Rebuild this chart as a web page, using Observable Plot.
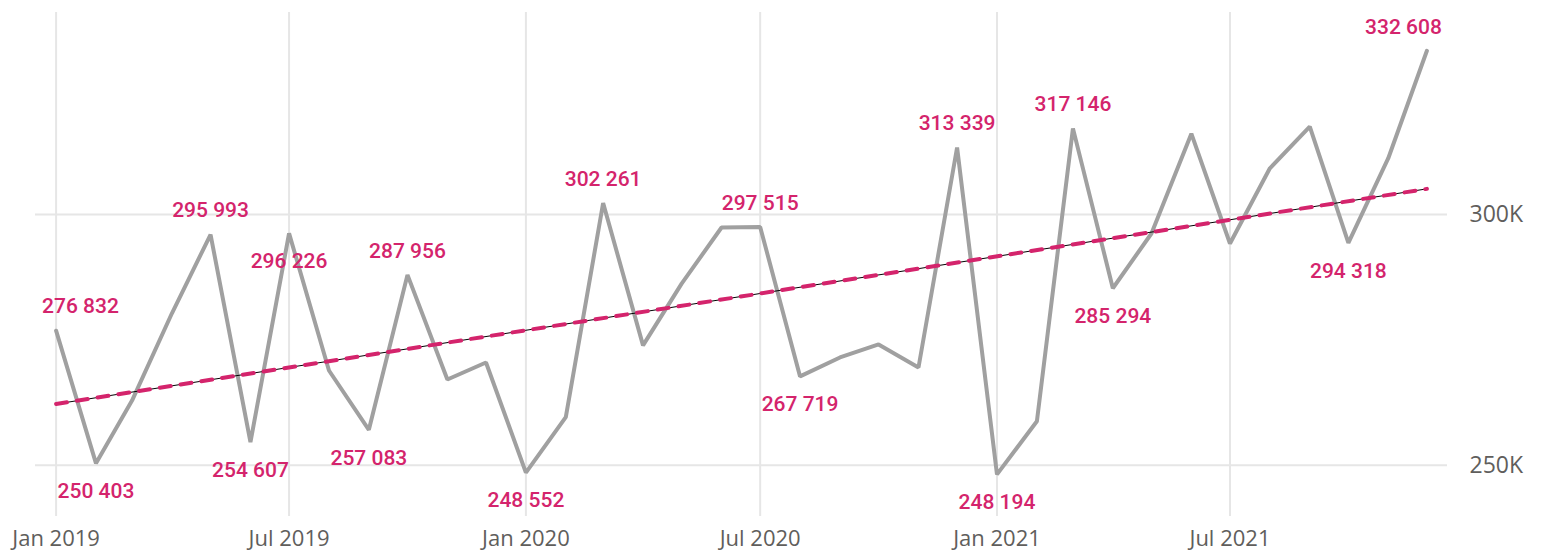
<!DOCTYPE html>
<html>
<head>
<meta charset="utf-8">
<script src="https://cdn.jsdelivr.net/npm/d3@7"></script>
<script src="https://cdn.jsdelivr.net/npm/@observablehq/plot@0.6"></script>
<style>
  html, body { margin: 0; padding: 0; background: #fff; }
  #chart svg { display: block; }
</style>
</head>
<body>
<div id="chart"></div>
<script>
const months = [
  "2019-01","2019-02","2019-03","2019-04","2019-05","2019-06","2019-07","2019-08","2019-09","2019-10","2019-11","2019-12",
  "2020-01","2020-02","2020-03","2020-04","2020-05","2020-06","2020-07","2020-08","2020-09","2020-10","2020-11","2020-12",
  "2021-01","2021-02","2021-03","2021-04","2021-05","2021-06","2021-07","2021-08","2021-09","2021-10","2021-11","2021-12"
];
const values = [
  276832, 250403, 262900, 280300, 295993, 254607, 296226, 268900, 257083, 287956, 267100, 270500,
  248552, 259600, 302261, 273900, 286200, 297400, 297515, 267719, 271500, 274100, 269500, 313339,
  248194, 258800, 317146, 285294, 296200, 316100, 294200, 309200, 317500, 294318, 311200, 332608
];
const aboveMonths = ["2019-01","2019-05","2019-10","2020-03","2020-07","2020-12","2021-03","2021-12"];
const belowMonths = ["2019-02","2019-06","2019-07","2019-09","2020-01","2020-08","2021-01","2021-04","2021-10"];
const yTicks = [250000, 300000];
const xTickMonths = ["2019-01","2019-07","2020-01","2020-07","2021-01","2021-07"];

const parse = d3.utcParse("%Y-%m");
const data = months.map((m, i) => ({month: m, date: parse(m), value: values[i]}));
const fmt = v => d3.format(",")(v).replace(/,/g, " ");

// least squares trend
const n = data.length;
const xs = data.map(d => +d.date), ys = data.map(d => d.value);
const mx = d3.mean(xs), my = d3.mean(ys);
const slope = d3.sum(xs.map((x, i) => (x - mx) * (ys[i] - my))) / d3.sum(xs.map(x => (x - mx) ** 2));
const trend = [data[0], data[n - 1]].map(d => ({date: d.date, value: my + slope * (+d.date - mx)}));

const above = data.filter(d => aboveMonths.includes(d.month));
const below = data.filter(d => belowMonths.includes(d.month));
const first = above.filter(d => d.month === months[0]);
const last = above.filter(d => d.month === months[n - 1]);
const aboveMid = above.filter(d => d !== first[0] && d !== last[0]);

const pink = "#d4246c";
const labelFont = {fill: pink, fontSize: 21, fontWeight: 500, fontFamily: "Roboto"};
const axisFont = {fontSize: 22, fontWeight: 400, fontFamily: "Open Sans", fill: "#605e5c"};

const chart = Plot.plot({
  width: 1541,
  height: 551,
  marginTop: 12,
  marginBottom: 41,
  marginLeft: 35,
  marginRight: 94,
  style: {fontFamily: "Roboto", background: "#fff"},
  x: {type: "utc", domain: [new Date(Date.UTC(2018, 11, 16)), new Date(Date.UTC(2021, 11, 17))]},
  y: {domain: [241000, 340240]},
  marks: [
    Plot.gridX(xTickMonths.map(parse), {stroke: "#e6e6e6", strokeOpacity: 1, strokeWidth: 2, insetBottom: -6}),
    Plot.gridY(yTicks, {stroke: "#e6e6e6", strokeOpacity: 1, strokeWidth: 2}),
    Plot.axisX(xTickMonths.map(parse), {
      tickSize: 0, tickPadding: 20, tickFormat: d3.utcFormat("%b %Y"), label: null, ...axisFont
    }),
    Plot.axisY(yTicks, {
      anchor: "right", tickSize: 0, tickPadding: 22, tickFormat: d => d / 1000 + "K", label: null,
      ...axisFont, fontSize: 23
    }),
    Plot.line(data, {x: "date", y: "value", stroke: "#a0a0a0", strokeWidth: 4, strokeLinejoin: "miter"}),
    Plot.line(trend, {x: "date", y: "value", stroke: "#000", strokeWidth: 1}),
    Plot.line(trend, {x: "date", y: "value", stroke: pink, strokeWidth: 4, strokeDasharray: "11,10"}),
    Plot.text(aboveMid, {x: "date", y: "value", text: d => fmt(d.value), dy: -24, ...labelFont}),
    Plot.text(first, {x: "date", y: "value", text: d => fmt(d.value), dy: -24, dx: -14, textAnchor: "start", ...labelFont}),
    Plot.text(last, {x: "date", y: "value", text: d => fmt(d.value), dy: -24, dx: 15, textAnchor: "end", ...labelFont}),
    Plot.text(below, {x: "date", y: "value", text: d => fmt(d.value), dy: 28, ...labelFont})
  ]
});
document.getElementById("chart").appendChild(chart);
</script>
</body>
</html>
